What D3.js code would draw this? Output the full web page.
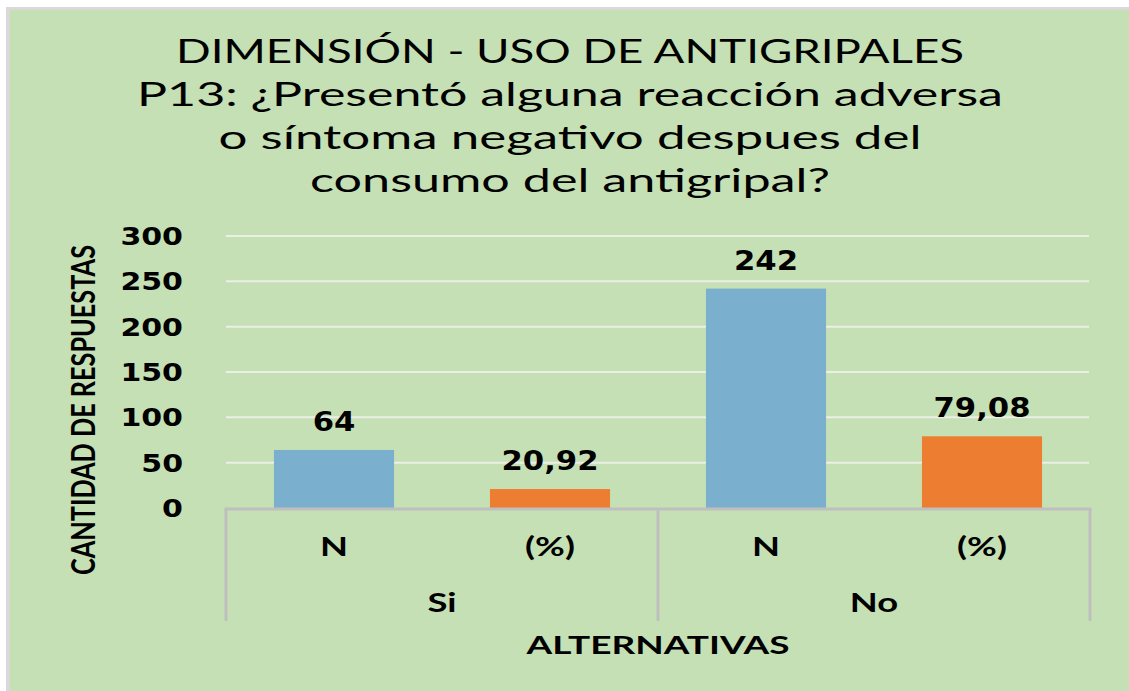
<!DOCTYPE html>
<html lang="en">
<head>
<meta charset="utf-8">
<title>P13 reacción adversa</title>
<script src="https://d3js.org/d3.v7.min.js"></script>
<style>
  body { margin:0; background:#fff; }
  .narrow { font-family:Lato,"Open Sans",sans-serif; }
  .num { font-family:"DejaVu Sans",Verdana,sans-serif; font-weight:bold; }
</style>
</head>
<body>
<svg id="chart" width="1129" height="691"></svg>
<script>
// data
var groups = ["Si", "No"]
var subCats = ["N", "(%)"]
var values = [64, 20.92, 242, 79.08]
var colors = ["#7AAFCE", "#ED7D31"]
var yTicks = [0, 50, 100, 150, 200, 250, 300]
var titleLines = [
  "DIMENSIÓN - USO DE ANTIGRIPALES",
  "P13: ¿Presentó alguna reacción adversa",
  "o síntoma negativo despues del",
  "consumo del antigripal?"
]

var svg = d3.select("#chart")

// frame + background
svg.append("rect").attr("x", 6).attr("y", 7).attr("width", 1130).attr("height", 690)
  .attr("fill", "#D9D9D9")
svg.append("rect").attr("x", 10).attr("y", 10).attr("width", 1129).attr("height", 691)
  .attr("fill", "#C5E0B4")

// title
var titleBase = [63, 106, 149, 192]
var titleLen = [788, 866, 703, 520]
svg.selectAll(".title").data(titleLines).enter().append("text")
  .attr("class", "narrow title")
  .attr("x", 570)
  .attr("y", function(d, i){ return titleBase[i] })
  .attr("text-anchor", "middle")
  .attr("font-size", 33)
  .attr("textLength", function(d, i){ return titleLen[i] })
  .attr("lengthAdjust", "spacingAndGlyphs")
  .attr("fill", "#000")
  .text(function(d){ return d })

var x0 = 226, x1 = 1090
var y = d3.scaleLinear().domain([0, 300]).range([508, 236])

var keys = []
groups.forEach(function(g){ subCats.forEach(function(s){ keys.push(g + "|" + s) }) })
var x = d3.scaleBand().domain(keys).range([x0, x1]).paddingInner(0.444).paddingOuter(0.222)
var xg = d3.scaleBand().domain(groups).range([x0, x1])

// gridlines
svg.append("g").selectAll("line").data(yTicks.slice(1)).enter().append("line")
  .attr("x1", x0).attr("x2", x1 - 1)
  .attr("y1", function(d){ return y(d) }).attr("y2", function(d){ return y(d) })
  .attr("stroke", "#EBEFE6").attr("stroke-width", 2)

// y tick labels
svg.append("g").selectAll("text").data(yTicks).enter().append("text")
  .attr("class", "num")
  .attr("transform", function(d){ return "translate(183," + (y(d) + 9) + ") scale(1.2,1)" })
  .attr("text-anchor", "end")
  .attr("font-size", 25)
  .text(function(d){ return d })

// bars
var fmt = function(v){ return v % 1 ? v.toFixed(2).replace(".", ",") : String(v) }
svg.append("g").selectAll("rect").data(values).enter().append("rect")
  .attr("x", function(d, i){ return x(keys[i]) })
  .attr("width", x.bandwidth())
  .attr("y", function(d){ return y(d) })
  .attr("height", function(d){ return y(0) - y(d) })
  .attr("fill", function(d, i){ return colors[i % 2] })

// data labels
svg.append("g").selectAll("text").data(values).enter().append("text")
  .attr("class", "num")
  .attr("transform", function(d, i){
    return "translate(" + (x(keys[i]) + x.bandwidth() / 2) + "," + (y(d) - 19) + ") scale(1.18,1)"
  })
  .attr("text-anchor", "middle")
  .attr("font-size", 26)
  .text(function(d){ return fmt(d) })

// x axis with two category levels
var axis = svg.append("g").attr("stroke", "#BFBFBF").attr("stroke-width", 3)
axis.append("line").attr("x1", x0 - 1.5).attr("x2", x1 + 1.5).attr("y1", 509).attr("y2", 509)
var seps = [x0].concat(groups.map(function(g){ return xg(g) + xg.bandwidth() }))
axis.selectAll(".sep").data(seps).enter().append("line")
  .attr("x1", function(d){ return d }).attr("x2", function(d){ return d })
  .attr("y1", 509).attr("y2", 621)

svg.append("g").selectAll("text").data(keys).enter().append("text")
  .attr("class", "narrow")
  .attr("transform", function(d){ return "translate(" + (x(d) + x.bandwidth() / 2) + ",556) scale(1.4,1)" })
  .attr("text-anchor", "middle")
  .attr("font-size", 26).attr("font-weight", "bold")
  .text(function(d){ return d.split("|")[1] })

svg.append("g").selectAll("text").data(groups).enter().append("text")
  .attr("class", "narrow")
  .attr("transform", function(d){ return "translate(" + (xg(d) + xg.bandwidth() / 2) + ",612) scale(1.4,1)" })
  .attr("text-anchor", "middle")
  .attr("font-size", 26).attr("font-weight", "bold")
  .text(function(d){ return d })

// axis titles
svg.append("text").attr("class", "narrow")
  .attr("x", 658).attr("y", 654)
  .attr("text-anchor", "middle")
  .attr("font-size", 24).attr("font-weight", "bold")
  .attr("textLength", 263).attr("lengthAdjust", "spacingAndGlyphs")
  .text("ALTERNATIVAS")

svg.append("text").attr("class", "narrow")
  .attr("transform", "translate(95,410) rotate(-90)")
  .attr("text-anchor", "middle")
  .attr("font-size", 33).attr("font-weight", "bold")
  .attr("textLength", 330).attr("lengthAdjust", "spacingAndGlyphs")
  .text("CANTIDAD DE RESPUESTAS")
</script>
</body>
</html>
